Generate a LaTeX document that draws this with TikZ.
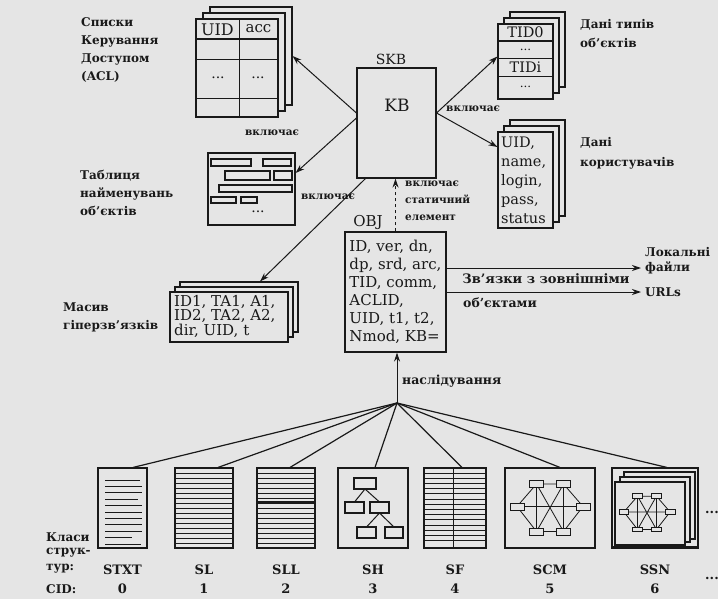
\documentclass[tikz,border=0pt]{standalone}
\usepackage{fontspec}
\setmainfont{DejaVu Serif}
\usetikzlibrary{arrows.meta,fit}
\definecolor{bg}{RGB}{229,229,229}
\definecolor{ink}{RGB}{25,25,25}
\tikzset{
  box/.style={draw=ink, line width=1.1pt, fill=bg, inner sep=0pt},
  thinline/.style={draw=ink, line width=0.8pt},
  conn/.style={draw=ink, line width=1pt, -{Stealth[length=9pt,width=6pt]}},
  fan/.style={draw=ink, line width=1.2pt},
  txt/.style={text=ink, inner sep=0pt, font=\fontsize{14}{15}\selectfont},
  lab/.style={text=ink, inner sep=0pt, font=\bfseries\fontsize{12}{18}\selectfont, align=left},
  small/.style={text=ink, inner sep=0pt, font=\bfseries\fontsize{10.5}{17}\selectfont, align=left},
  cls/.style={text=ink, inner sep=0pt, font=\bfseries\fontsize{13}{15}\selectfont},
}
\newcommand\mystack[7]{%
  \node[box, fit={({#2+2*#6},{#3-2*#7}) ({#4+2*#6},{#5-2*#7})}] (#1b) {};
  \node[box, fit={({#2+#6},{#3-#7}) ({#4+#6},{#5-#7})}] (#1m) {};
  \node[box, fit={(#2,#3) (#4,#5)}] (#1) {};
}
\newcommand\mynet[3]{%
  \begin{scope}[shift={(#1,#2)}, scale=#3]
    \draw[thinline] (-33,-1.5)--(-13.5,-24)--(13.5,-24)--(33,-1.5)--(13.5,23.5)--(-13.5,23.5)--cycle;
    \draw[thinline] (-33,-1.5)--(33,-1.5) (-13.5,-24)--(-13.5,23.5) (13.5,-24)--(13.5,23.5)
      (-13.5,-24)--(13.5,23.5) (13.5,-24)--(-13.5,23.5);
    \foreach \a/\b in {-13.5/-24, 13.5/-24, -33/-1.5, 33/-1.5, -13.5/23.5, 13.5/23.5}
      \draw[thinline, line width=1pt, fill=bg] ({\a-7},{\b-3.5}) rectangle ({\a+7},{\b+3.5});
  \end{scope}}
\begin{document}
\begin{tikzpicture}[x=1pt,y=-1pt]
\fill[bg] (0,0) rectangle (718,599);
\useasboundingbox (0,0) rectangle (718,599);

% ---------- ACL stack
\mystack{acl}{196}{19}{278}{117}{7}{6}
\draw[thinline, line width=1.1pt] (196,39) -- (278,39);
\draw[thinline] (196,59) -- (278,59) (196,98) -- (278,98) (239,19) -- (239,117);
\node[txt, font=\fontsize{16}{17}\selectfont] (aclu) at (217.5,29.5) {UID};
\node[txt, font=\fontsize{15}{16}\selectfont] (acla) at (258.5,29) {acc};
\node[txt] (acld1) at (218,78) {...};
\node[txt] (acld2) at (258,78) {...};
\node[lab, anchor=west] (acllab) at (81,50) {Списки\\Керування\\Доступом\\(ACL)};

% ---------- KB
\node[box, fit={(357,68) (436,178)}] (kb) {};
\node[txt] (skb) at (391,59) {SKB};
\node[txt, font=\fontsize{17}{18}\selectfont] (kbt) at (397,105) {KB};

% ---------- TID stack
\mystack{tid}{498}{24}{553}{99}{6}{6}
\draw[thinline, line width=1.3pt] (498,41) -- (553,41);
\draw[thinline] (498,58) -- (553,58) (498,76) -- (553,76);
\node[txt, font=\fontsize{14.5}{15}\selectfont] (tid0) at (525.5,32.5) {TID0};
\node[txt, font=\fontsize{12}{13}\selectfont] (tidd1) at (525.5,50) {...};
\node[txt, font=\fontsize{14.5}{15}\selectfont] (tidi) at (525.5,67) {TIDi};
\node[txt, font=\fontsize{12}{13}\selectfont] (tidd2) at (525.5,87) {...};
\node[lab, anchor=west, font=\bfseries\fontsize{12}{19}\selectfont] (tidlab) at (580,34) {Дані типів\\об’єктів};

% ---------- Users stack
\mystack{usr}{498}{132}{553}{228}{6}{6}
\node[txt, anchor=west, align=left, font=\fontsize{14.5}{19}\selectfont] (usrt) at (501,180) {UID,\\name,\\login,\\pass,\\status};
\node[lab, anchor=west, font=\bfseries\fontsize{12}{20}\selectfont] (usrlab) at (580,153) {Дані\\користувачів};

% ---------- Naming table
\node[box, fit={(208,153) (295,225)}] (names) {};
\draw[thinline, line width=1.1pt]
  (211,159) rectangle (251,166) (263,159) rectangle (291,166)
  (225,171) rectangle (270,180) (274,171) rectangle (292,180)
  (219,185) rectangle (292,192)
  (211,197) rectangle (236,203) (241,197) rectangle (257,203);
\node[txt] (namesd) at (258,212) {...};
\node[lab, anchor=west, font=\bfseries\fontsize{12}{18}\selectfont] (nameslab) at (80,193) {Таблиця\\найменувань\\об’єктів};

% ---------- Hyperlink stack
\mystack{hyp}{170}{292}{288}{342}{5}{5}
\node[txt, anchor=west, align=left, font=\fontsize{15}{14.5}\selectfont] (hypt) at (174,316) {ID1, TA1, A1,\\ID2, TA2, A2,\\dir, UID, t};
\node[lab, anchor=west] (hyplab) at (63,317) {Масив\\гіперзв’язків};

% ---------- OBJ
\node[box, minimum width=101pt, minimum height=120pt, align=left, text=ink,
      font=\fontsize{15}{18}\selectfont] (obj) at (395.5,292)
  {ID, ver, dn,\\dp, srd, arc,\\TID, comm,\\ACLID,\\UID, t1, t2,\\Nmod, KB=};
\node[txt, font=\fontsize{15}{16}\selectfont] (objlab) at (368,222) {OBJ};

% ---------- KB connectors
\draw[conn] ([yshift=10pt]kb.west) -- (aclb.east);
\draw[conn] ([yshift=5pt]kb.west) -- ([yshift=16pt]names.east);
\draw[conn] ([xshift=-31pt]kb.south) -- ([xshift=21pt]hypb.north);
\draw[conn] ([yshift=10pt]kb.east) -- ([yshift=5pt]tid.west);
\draw[conn] ([yshift=10pt]kb.east) -- ([yshift=33pt]usr.west);
\node[small, anchor=west] (vk1) at (446,109) {включає};
\node[small] (vk2) at (272,133) {включає};
\node[small] (vk3) at (328,197) {включає};
\draw[conn, dashed] (obj.north) -- (obj.north |- kb.south);
\node[small, anchor=west] (vk4) at (405,201) {включає\\статичний\\елемент};

% ---------- External links
\node[lab, anchor=west] (loc1) at (645,252) {Локальні};
\node[lab, anchor=west] (loc2) at (645,268) {файли};
\node[lab, anchor=west] (urls) at (645,292) {URLs};
\draw[conn, shorten >=4pt] ([yshift=24pt]obj.east) -- (loc2.west);
\draw[conn, shorten >=4pt] (obj.east) -- (urls.west);
\node[lab, font=\bfseries\fontsize{13}{15}\selectfont] (ext1) at (546,279) {Зв’язки з зовнішніми};
\node[lab, font=\bfseries\fontsize{12.5}{15}\selectfont, anchor=west] (ext2) at (463,303) {об’єктами};

% ---------- Class boxes
\node[box, fit={(98,468) (147,548)}] (stxt) {};
\node[box, fit={(175,468) (233,548)}] (sl) {};
\node[box, fit={(257,468) (315,548)}] (sll) {};
\node[box, fit={(338,468) (408,548)}] (sh) {};
\node[box, fit={(424,468) (486,548)}] (sf) {};
\node[box, fit={(505,468) (595,548)}] (scm) {};
\node[box, fit={(612,468) (698,548)}] (ssn) {};

% STXT lines
\foreach \y/\xe in {480/140, 486.4/142, 492.8/142, 499.2/138, 505.6/142, 512/142, 518.4/142, 524.8/142, 531.2/142, 537.6/132, 544/141}
  \draw[thinline, line width=1pt] (105,\y) -- (\xe,\y);
% SL lines
\foreach \y in {473,478,...,543}
  \draw[thinline] (175,\y) -- (233,\y);
% SLL lines
\foreach \y in {473,478,...,543}
  \draw[thinline] (257,\y) -- (315,\y);
\draw[thinline, line width=2.2pt] (257,502) -- (315,502);
% SF lines
\foreach \y in {473,478.2,...,544}
  \draw[thinline] (424,\y) -- (486,\y);
\draw[thinline] (453,468) -- (453,548);
% SH tree
\draw[thinline, line width=1pt] (365,489) -- (354.5,502) (365,489) -- (379.5,502)
  (379.5,513) -- (366.5,527) (379.5,513) -- (394,527);
\draw[thinline, line width=1.1pt, fill=bg] (354,478) rectangle (376,489)
  (345,502) rectangle (364,513) (370,502) rectangle (389,513)
  (357,527) rectangle (376,538) (385,527) rectangle (403,538);
% SCM net
\mynet{550}{508}{1}
% SSN pages + net
\draw[box] (624,472) rectangle (695,539);
\draw[box] (620,477) rectangle (690,542);
\draw[box] (615,482) rectangle (685,545);
\draw[ink, line width=1.8pt] (612,547) -- (698,547);
\mynet{647}{513}{0.7}

% ---------- Inheritance
\coordinate (apex) at (397,403);
\draw[conn] (apex) -- (apex |- obj.south);
\node[lab, font=\bfseries\fontsize{12.5}{15}\selectfont, anchor=west] (inh) at (402,381) {наслідування};
\draw[fan] (apex) -- ([xshift=10.5pt]stxt.north);
\draw[fan] (apex) -- ([xshift=14pt]sl.north);
\draw[fan] (apex) -- ([xshift=4pt]sll.north);
\draw[fan] (apex) -- ([xshift=2pt]sh.north);
\draw[fan] (apex) -- ([xshift=7pt]sf.north);
\draw[fan] (apex) -- ([xshift=10pt]scm.north);
\draw[fan] (apex) -- ([xshift=12pt]ssn.north);

% ---------- Class labels
\node[cls] (c0) at (122.5,570) {STXT};
\node[cls] (c1) at (204,570) {SL};
\node[cls] (c2) at (286,570) {SLL};
\node[cls] (c3) at (373,570) {SH};
\node[cls] (c4) at (455,570) {SF};
\node[cls] (c5) at (550,570) {SCM};
\node[cls] (c6) at (655,570) {SSN};
\node[cls] (d0) at (122.5,589) {0};
\node[cls] (d1) at (204,589) {1};
\node[cls] (d2) at (286,589) {2};
\node[cls] (d3) at (373,589) {3};
\node[cls] (d4) at (455,589) {4};
\node[cls] (d5) at (550,589) {5};
\node[cls] (d6) at (655,589) {6};
\node[lab, anchor=west] (kl1) at (46,537) {Класи};
\node[lab, anchor=west] (kl2) at (46,553) {струк-};
\node[lab, anchor=west] (kl3) at (46,569) {тур:};
\node[lab, anchor=west] (kl4) at (46,589) {CID:};
\node[cls, anchor=west] (more1) at (705,512) {...};
\node[cls, anchor=west] (more2) at (705,578) {...};
\end{tikzpicture}
\end{document}
